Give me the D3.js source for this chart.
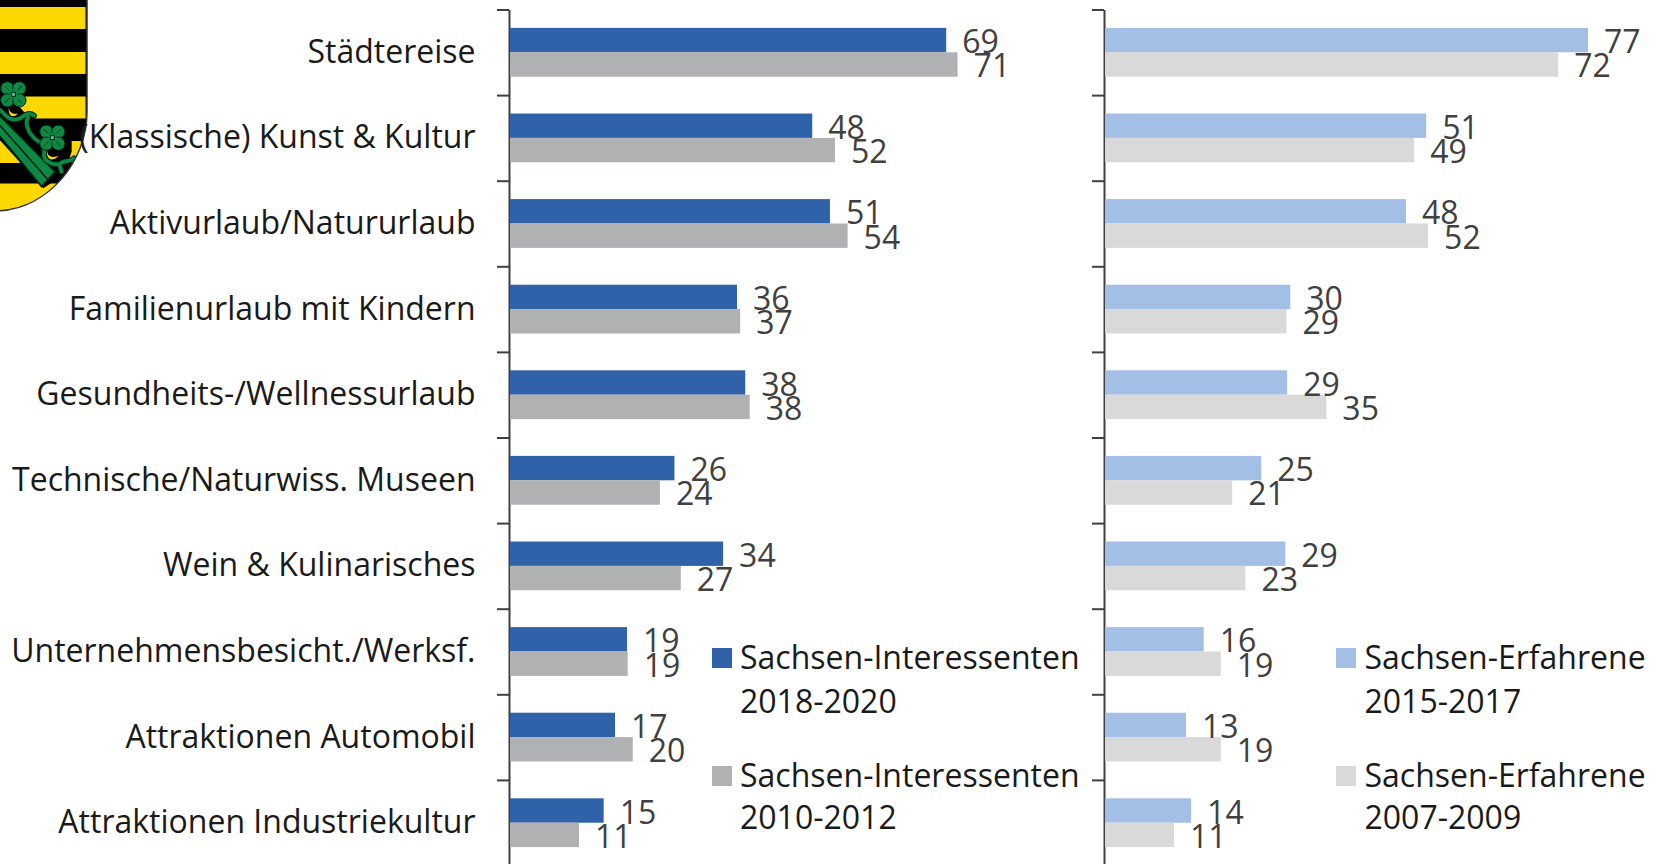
<!DOCTYPE html>
<html><head><meta charset="utf-8">
<script src="https://cdn.jsdelivr.net/npm/d3@7/dist/d3.min.js"></script>
<style>html,body{margin:0;padding:0;background:#fff;overflow:hidden}svg{display:block}text{font-family:"Open Sans",sans-serif}</style>
</head><body><svg id="c" width="1658" height="864"></svg>
<script>
const categories=["Städtereise","(Klassische) Kunst & Kultur","Aktivurlaub/Natururlaub","Familienurlaub mit Kindern","Gesundheits-/Wellnessurlaub","Technische/Naturwiss. Museen","Wein & Kulinarisches","Unternehmensbesicht./Werksf.","Attraktionen Automobil","Attraktionen Industriekultur"];
// printed labels
const labels2018=[69,48,51,36,38,26,34,19,17,15];
const labels2010=[71,52,54,37,38,24,27,19,20,11];
const labels2015=[77,51,48,30,29,25,29,16,13,14];
const labels2007=[72,49,52,29,35,21,23,19,19,11];
// bar lengths
const interessenten2018=[69.1,47.9,50.7,36.0,37.3,26.1,33.8,18.6,16.7,14.9];
const interessenten2010=[70.9,51.5,53.5,36.5,38.0,23.8,27.1,18.7,19.5,11.0];
const erfahrene2015=[76.5,50.9,47.7,29.4,28.9,24.8,28.6,15.7,12.9,13.7];
const erfahrene2007=[71.8,49.0,51.2,28.8,35.1,20.2,22.3,18.4,18.4,11.0];
const legendLeft=[["Sachsen-Interessenten","2018-2020"],["Sachsen-Interessenten","2010-2012"]];
const legendRight=[["Sachsen-Erfahrene","2015-2017"],["Sachsen-Erfahrene","2007-2009"]];
const colors={a:"#3062a9",b:"#b0b1b2",c:"#a3bfe6",d:"#d9d9d9",axis:"#404040",label:"#404040",text:"#1a1a1a"};

const svg=d3.select("#c");
const step=85.6, plotTop=9.5;
const y=d3.scaleBand().domain(categories).range([plotTop,plotTop+step*categories.length]).paddingInner(0.43).paddingOuter(0.215);
const tickY=d3.scaleLinear().domain([0,categories.length]).range([plotTop,plotTop+step*categories.length]);
const unit=6.32;
const xL=d3.scaleLinear().domain([0,100]).range([509.5,509.5+unit*100]);
const xR=d3.scaleLinear().domain([0,100]).range([1104.5,1104.5+unit*100]);

// Emblem
const emblem=svg.append("g");
const clip=svg.append("defs").append("clipPath").attr("id","sh");
const shield="M-2,-2H87V112C87,160 50,208 -2,211Z";
clip.append("path").attr("d",shield);
const eg=emblem.append("g").attr("clip-path","url(#sh)");
const yellow="#fdd800", green="#0c8a45", dark="#04331c";
eg.append("rect").attr("x",-2).attr("y",-2).attr("width",92).attr("height",216).attr("fill","#000");
const stripeTops=[7,52,96.5,141,183.5];
eg.selectAll("rect.s").data(stripeTops).join("rect").attr("class","s").attr("x",-2).attr("y",d=>d).attr("width",87.5)
  .attr("height",(d,i)=>i===4?30:22).attr("fill",yellow);
// everything below drawn in crop coordinates (3x, origin at 0,75)
const z=eg.append("g").attr("transform","translate(0,75) scale(0.3333)");
// black field behind the crown
z.append("path").attr("d","M-5,60H28L80,120L110,125L88,150L100,195H215V230L190,300L130,340L-5,190Z").attr("fill","#000");
z.append("path").attr("d","M-5,118L165,290L125,335L-5,178Z").attr("fill",green).attr("stroke","#021").attr("stroke-width",5);
z.append("path").attr("d","M-5,146L142,312").attr("stroke","#021").attr("stroke-width",5).attr("fill","none");
// crescents
const crescent=[["M28,85C26,108 36,120 58,112C55,122 40,130 30,122C22,112 22,95 28,85Z"],["M146,218C140,240 150,250 178,240C175,252 158,258 148,254C136,245 136,228 146,218Z"]];
z.selectAll("path.cr").data(crescent).join("path").attr("class","cr").attr("d",d=>d[0]).attr("fill",yellow).attr("stroke","#000").attr("stroke-width",4);
// crown arcs
const arcs=["M0,105L18,122C28,135 52,138 68,125C75,118 90,112 102,122M84,128C72,150 88,185 125,205C130,212 134,225 132,240C132,255 150,270 178,268C190,255 208,262 222,250M178,268L185,290"];
z.selectAll("path.a1").data(arcs).join("path").attr("class","a1").attr("d",d=>d).attr("fill","none").attr("stroke","#021").attr("stroke-width",17).attr("stroke-linecap","round");
z.selectAll("path.a2").data(arcs).join("path").attr("class","a2").attr("d",d=>d).attr("fill","none").attr("stroke",green).attr("stroke-width",11).attr("stroke-linecap","round");
// clovers
const clovers=[[40,58],[157,188]];
clovers.forEach(([cx,cy])=>{
  [[-18,-18],[18,-18],[-18,18],[18,18]].forEach(([dx,dy])=>{
    z.append("ellipse").attr("cx",cx+dx).attr("cy",cy+dy).attr("rx",20).attr("ry",20).attr("fill",green).attr("stroke","#021").attr("stroke-width",3);
  });
  z.append("rect").attr("x",cx-12).attr("y",cy-12).attr("width",24).attr("height",24).attr("fill",green);
  z.append("rect").attr("x",cx-6).attr("y",cy-6).attr("width",12).attr("height",12).attr("fill","#6fb58d").attr("stroke","#021").attr("stroke-width",3);
  [[-1,-1],[1,-1],[-1,1],[1,1]].forEach(([dx,dy])=>{
    z.append("line").attr("x1",cx+dx*12).attr("y1",cy+dy*12).attr("x2",cx+dx*26).attr("y2",cy+dy*26).attr("stroke","#021").attr("stroke-width",3);
  });
});
emblem.append("path").attr("d",shield).attr("fill","none").attr("stroke","#333").attr("stroke-width",1.5);

function panel(x,first,second,lab1,lab2,c1,c2,axisTicks){
  const ax=d3.axisLeft(tickY).tickValues(axisTicks).tickFormat("").tickSize(12).tickSizeOuter(0);
  const g=svg.append("g").attr("transform",`translate(${x(0)-0.5},0)`).call(ax);
  g.selectAll("path,line").attr("stroke",colors.axis).attr("stroke-width",2);
  const h=y.bandwidth()/2;
  const series=[[first,lab1,c1,0],[second,lab2,c2,h]];
  series.forEach(([vals,labs,col,off])=>{
    svg.append("g").selectAll("rect").data(vals).join("rect")
      .attr("x",x(0)+0.5).attr("y",(d,i)=>y(categories[i])+off)
      .attr("width",d=>x(d)-x(0)-0.5).attr("height",h).attr("fill",col);
  });
  series.forEach(([vals,labs,col,off])=>{
    svg.append("g").selectAll("text").data(vals).join("text")
      .attr("x",d=>x(d)+16).attr("y",(d,i)=>y(categories[i])+off+h/2+13)
      .attr("font-size",32).attr("fill",colors.label).text((d,i)=>labs[i]);
  });
}
panel(xL,interessenten2018,interessenten2010,labels2018,labels2010,colors.a,colors.b,d3.range(0,categories.length+1));
panel(xR,erfahrene2015,erfahrene2007,labels2015,labels2007,colors.c,colors.d,d3.range(0,categories.length+1));

svg.append("g").selectAll("text").data(categories).join("text")
  .attr("x",475.5).attr("y",d=>y(d)+y.bandwidth()/2+10.5).attr("text-anchor","end")
  .attr("font-size",32).attr("fill",colors.text).text(d=>d);

function legend(items,sqX,txtX,cols){
  const tops=[648,766], base=[[669,713],[787,829]];
  items.forEach((lines,i)=>{
    svg.append("rect").attr("x",sqX).attr("y",tops[i]).attr("width",20).attr("height",20).attr("fill",cols[i]);
    lines.forEach((t,j)=>svg.append("text").attr("x",txtX).attr("y",base[i][j]).attr("font-size",32).attr("fill",colors.text).text(t));
  });
}
legend(legendLeft,712,740,[colors.a,colors.b]);
legend(legendRight,1336,1364.5,[colors.c,colors.d]);
</script></body></html>
